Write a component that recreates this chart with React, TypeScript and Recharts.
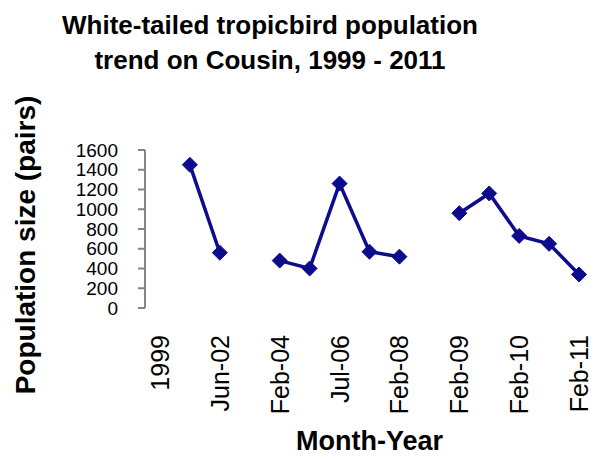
import { LineChart, Line, XAxis, YAxis } from 'recharts'

const months = [
  '1999', '', 'Jun-02', '', 'Feb-04', '', 'Jul-06', '', 'Feb-08', '', 'Feb-09', '', 'Feb-10', '', 'Feb-11'
]
const pairs = [
  null, 1450, 560, null, 480, 400, 1260, 570, 520, null, 960, 1160, 730, 650, 340
]
const yTicks = [0, 200, 400, 600, 800, 1000, 1200, 1400, 1600]

const data = months.map((month, i) => ({ idx: i, month, pairs: pairs[i] }))
const labelTicks = months.map((m, i) => (m ? i : -1)).filter((i) => i >= 0)
const frameTicks = [...months.map((_, i) => i - 0.5), months.length - 0.5]

const font = '"Liberation Sans", Arial, sans-serif'
const navy = '#0c0c8c'
const gray = '#858585'

const Diamond = (props: any) => {
  const { cx, cy, value } = props
  if (value == null || cx == null || cy == null) return null
  const r = 7.5
  return (
    <path
      d={`M${cx},${cy - r} L${cx + r},${cy} L${cx},${cy + r} L${cx - r},${cy} Z`}
      fill={navy}
      stroke={navy}
      strokeWidth={1}
    />
  )
}

const MonthTick = (props: any) => {
  const { x, y, payload } = props
  const ty = y + 27
  return (
    <text
      x={x}
      y={ty}
      transform={`rotate(-90, ${x}, ${ty})`}
      textAnchor='end'
      dy='0.36em'
      fontFamily={font}
      fontSize={25}
      fill='#000'
    >
      {months[payload.value]}
    </text>
  )
}

export default function App() {
  return (
    <div style={{ position: 'fixed', left: 0, top: 0, width: 601, height: 459, background: '#fff' }}>
      <LineChart
        width={601}
        height={459}
        data={data}
        margin={{ top: 150, right: 7, bottom: 0, left: 0 }}
      >
        <XAxis
          xAxisId='frame'
          type='number'
          dataKey='idx'
          domain={[-0.5, months.length - 0.5]}
          ticks={frameTicks}
          tick={false}
          tickSize={8}
          tickLine={{ stroke: gray, strokeWidth: 2 }}
          axisLine={{ stroke: gray, strokeWidth: 2 }}
          height={0}
          allowDataOverflow
        />
        <XAxis
          xAxisId='label'
          type='number'
          dataKey='idx'
          domain={[-0.5, months.length - 0.5]}
          ticks={labelTicks}
          interval={0}
          tick={<MonthTick />}
          tickSize={0}
          tickMargin={0}
          tickLine={false}
          axisLine={false}
          height={151}
          label={{
            content: (p: any) => {
              const vb = p.viewBox || {}
              return (
                <text
                  x={vb.x + vb.width / 2}
                  y={450}
                  textAnchor='middle'
                  fontFamily={font}
                  fontWeight='bold'
                  fontSize={27}
                  fill='#000'
                >
                  Month-Year
                </text>
              )
            }
          }}
        />
        <YAxis
          domain={[0, 1600]}
          ticks={yTicks}
          interval={0}
          width={145}
          tickSize={7}
          tickMargin={20}
          tickLine={{ stroke: gray, strokeWidth: 2 }}
          axisLine={{ stroke: gray, strokeWidth: 2 }}
          tick={{ fontFamily: font, fontSize: 19, fill: '#000' }}
          label={{
            content: () => (
              <text
                x={25}
                y={245}
                transform='rotate(-90, 25, 245)'
                textAnchor='middle'
                dy='0.36em'
                fontFamily={font}
                fontWeight='bold'
                fontSize={28}
                fill='#000'
              >
                Population size (pairs)
              </text>
            )
          }}
        />
        <Line
          xAxisId='label'
          dataKey='pairs'
          stroke={navy}
          strokeWidth={3.5}
          dot={<Diamond />}
          activeDot={false}
          isAnimationActive={false}
        />
      </LineChart>
      <svg width={601} height={80} style={{ position: 'absolute', left: 0, top: 0 }}>
        <text x={270} y={34} textAnchor='middle' fontFamily={font} fontWeight='bold' fontSize={26} fill='#000'>
          White-tailed tropicbird population
        </text>
        <text x={270} y={69} textAnchor='middle' fontFamily={font} fontWeight='bold' fontSize={26} fill='#000'>
          trend on Cousin, 1999 - 2011
        </text>
      </svg>
    </div>
  )
}
